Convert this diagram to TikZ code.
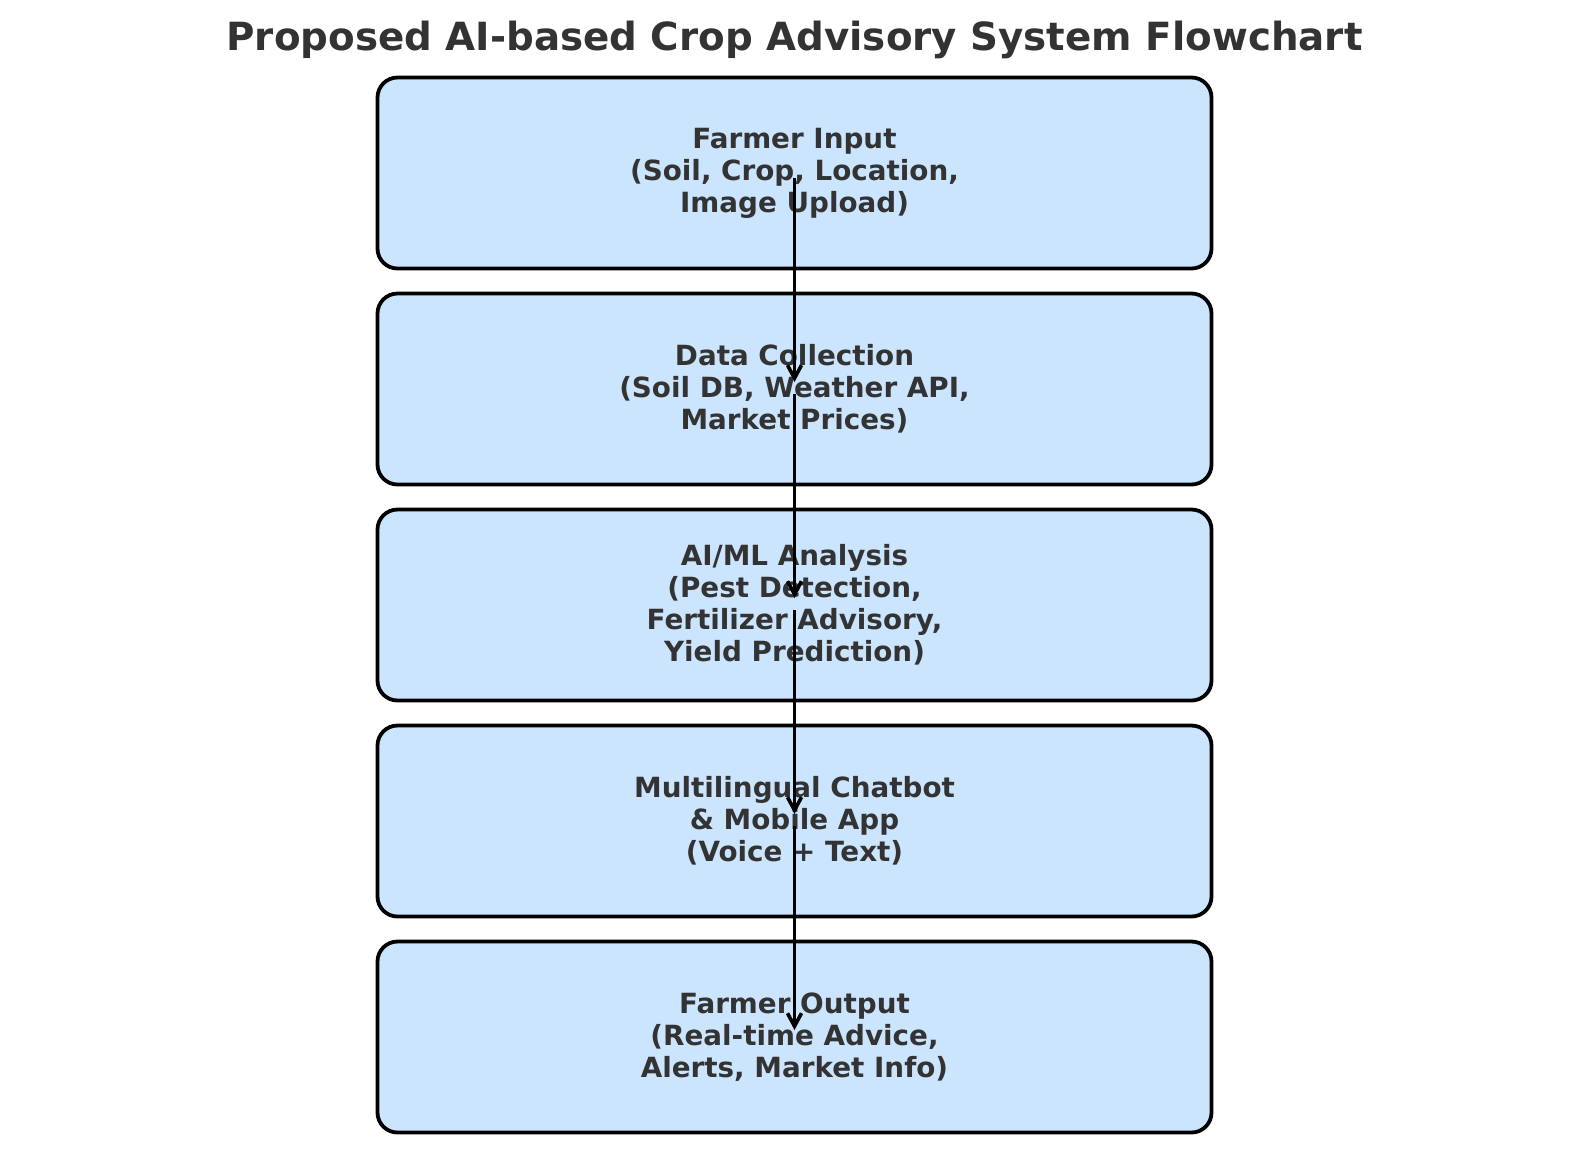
\documentclass[tikz,border=0pt]{standalone}
\usepackage{fontspec}
\setmainfont{DejaVu Sans}
\usepackage{tikz}
\usetikzlibrary{arrows.meta}

\definecolor{boxblue}{HTML}{CCE5FF}
\definecolor{textgray}{HTML}{333333}

\begin{document}
\begin{tikzpicture}[x=0.5pt,y=-0.5pt,
  stage/.style={draw=black, line width=1.9pt, fill=boxblue, rounded corners=10pt,
    minimum width=417pt, minimum height=95.5pt, align=center, text=textgray,
    font=\fontsize{13.9}{15.95}\selectfont\bfseries},
  flow/.style={line width=1.8pt, -{Straight Barb[length=6.5pt,width=7pt,line width=1.8pt]}}]
  \useasboundingbox (0,0) rectangle (1589,1164);

  \node[text=textgray, font=\fontsize{19.4}{23}\selectfont\bfseries] (title) at (794.5,40)
    {Proposed AI-based Crop Advisory System Flowchart};

  \node[stage] (input) at (794.5,173) {Farmer Input\\(Soil, Crop, Location,\\Image Upload)};
  \node[stage] (collect) at (794.5,389) {Data Collection\\(Soil DB, Weather API,\\Market Prices)};
  \node[stage] (analysis) at (794.5,605) {AI/ML Analysis\\(Pest Detection,\\Fertilizer Advisory,\\Yield Prediction)};
  \node[stage] (chatbot) at (794.5,821) {Multilingual Chatbot\\\& Mobile App\\(Voice + Text)};
  \node[stage] (output) at (794.5,1037) {Farmer Output\\(Real-time Advice,\\Alerts, Market Info)};

  % arrows on top of the boxes
  \draw[flow] ([yshift=-2.5pt]input.center) -- ([yshift=3.5pt]collect.center);
  \draw[flow] ([yshift=-2.5pt]collect.center) -- ([yshift=3.5pt]analysis.center);
  \draw[flow] ([yshift=-2.5pt]analysis.center) -- ([yshift=3.5pt]chatbot.center);
  \draw[flow] ([yshift=-2.5pt]chatbot.center) -- ([yshift=3.5pt]output.center);
\end{tikzpicture}
\end{document}
